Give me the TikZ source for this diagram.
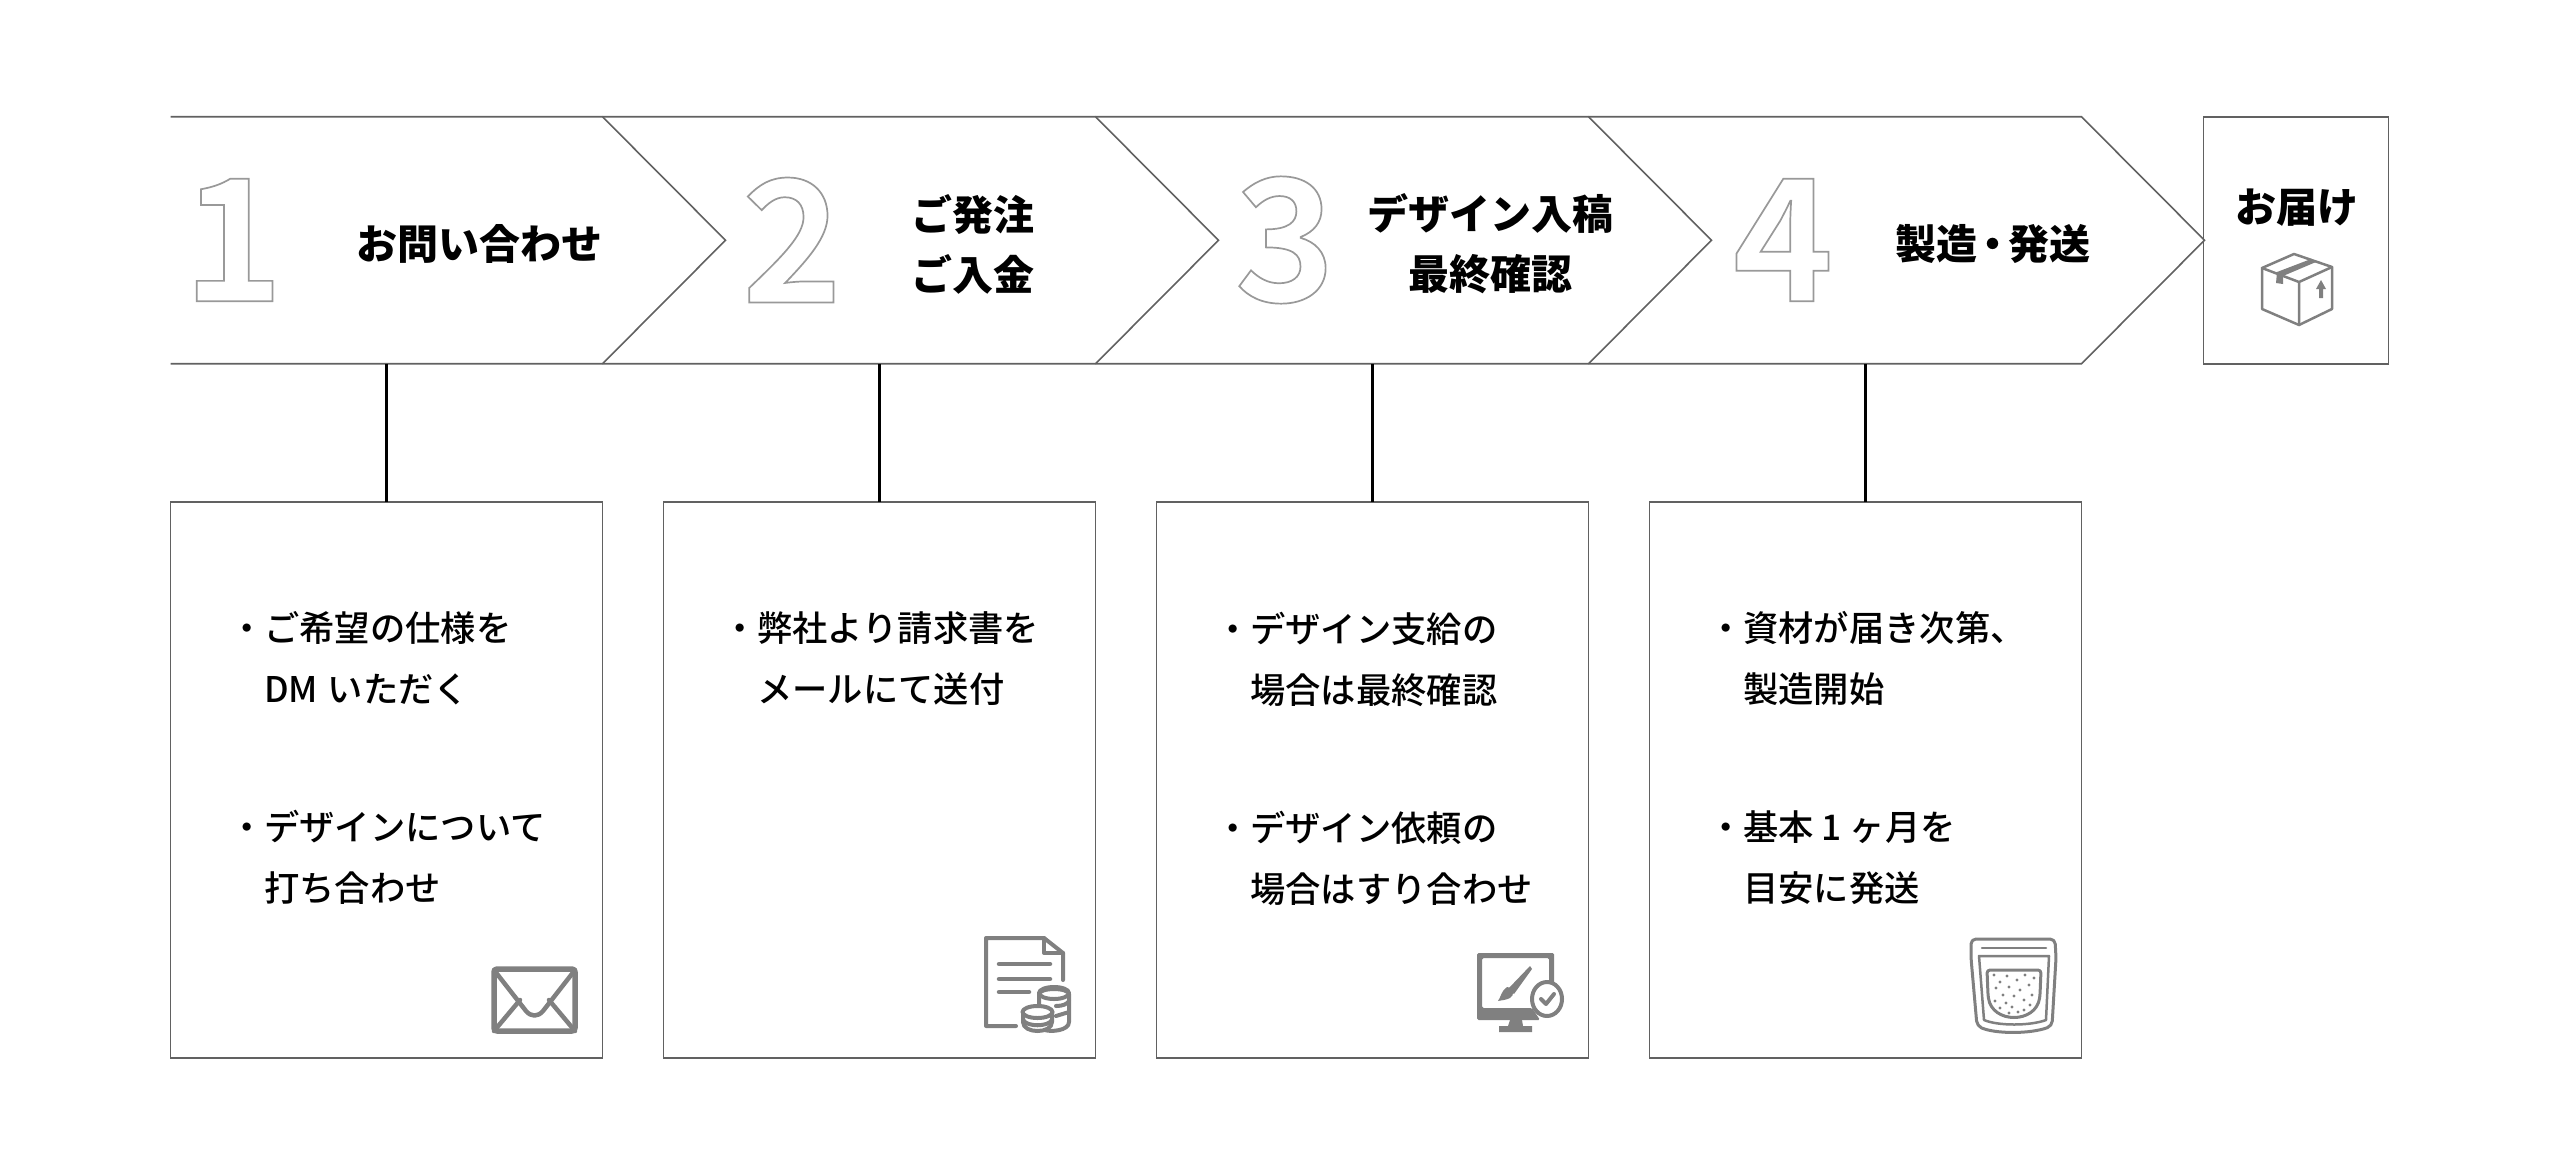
\documentclass[tikz,border=0pt]{standalone}
\usepackage{fontspec}
\usetikzlibrary{positioning}
\setmainfont{Noto Sans CJK JP Medium}
\newfontfamily\jpblack{Noto Sans CJK JP Black}
\newfontfamily\jpnum[FakeBold=1]{Noto Sans CJK JP Bold}
\definecolor{linegray}{gray}{.38}
\definecolor{icongray}{gray}{.5}
\def\BigNum#1{\special{pdf:code 0.6 0.6 0.6 RG}#1}
\def\Ind{\hspace*{1em}}
\tikzset{
	stepbox/.style={rectangle,draw=linegray,line width=1.8pt,fill=white,minimum width=432pt,minimum height=556.5pt},
	headbox/.style={rectangle,minimum width=432pt,minimum height=247pt},
	chev/.style={draw=linegray,line width=1.6pt},
	conn/.style={draw=black,line width=2.2pt},
	headtxt/.style={align=center,font=\jpblack\fontsize{41pt}{60pt}\selectfont},
	bodytxt/.style={align=left,anchor=north west,font=\fontsize{35.3pt}{61pt}\selectfont},
	numtxt/.style={text=white,font=\jpnum\fontsize{170pt}{170pt}\selectfont},
	ico/.style={draw=icongray,line width=4pt,line join=round,line cap=round},
	icofill/.style={fill=icongray,draw=none}
}
\begin{document}
\begin{tikzpicture}[x=1pt,y=-1pt,
			every node/.style={inner sep=0pt,outer sep=0pt}
		]
		\useasboundingbox (0,0) rectangle (2560,1165);
		% lower boxes
		\node[stepbox](B1) at (386.5,780){};
		\node[stepbox](B2)[right=61pt of B1]{};
		\node[stepbox](B3)[right=61pt of B2]{};
		\node[stepbox](B4)[right=61pt of B3]{};
		% band
		\node[headbox](S1)[above=138pt of B1]{};
		\node[headbox](S2)[above=138pt of B2]{};
		\node[headbox](S3)[above=138pt of B3]{};
		\node[headbox](S4)[above=138pt of B4]{};
		\foreach \n/\s in {1/0,2/61,3/61,4/61}{
			\draw[chev] ([xshift=-\s pt]S\n.north west) -- (S\n.north east) -- ([xshift=123pt]S\n.east)
				-- (S\n.south east) -- ([xshift=-\s pt]S\n.south west);
		}
		\node[rectangle,draw=linegray,line width=1.8pt,minimum width=185pt,minimum height=247pt](E1)[right=122pt of S4]{};
		\path
		(S1)edge[conn] (B1)
		(S2)edge[conn] (B2)
		(S3)edge[conn] (B3)
		(S4)edge[conn] (B4)
		;
		% numbers
		\node[numtxt](N1) at (233,240){\BigNum{1}};
		\node[numtxt](N2) at (792,240){\BigNum{2}};
		\node[numtxt](N3) at (1285,240){\BigNum{3}};
		\node[numtxt](N4) at (1783,240){\BigNum{4}};
		% titles
		\node[headtxt](H1) at (479,244){お問い合わせ};
		\node[headtxt](H2) at (973,244){ご発注\\ご入金};
		\node[headtxt](H3) at (1490,244){デザイン入稿\\最終確認};
		\node[headtxt](H4) at (1993,244){製造\hspace{-.12em}・\hspace{-.12em}発送};
		\node[headtxt](H5) at (2297,208){お届け};
		% texts
		\node[bodytxt](T1)[below right=110pt and 58.5pt of B1.north west]{・ご希望の仕様を\\\Ind DM\hspace{.05em} いただく\\[77pt]・デザインについて\\\Ind 打ち合わせ};
		\node[bodytxt](T2)[below right=110pt and 58.5pt of B2.north west]{・弊社より請求書を\\\Ind メールにて送付};
		\node[bodytxt](T3)[below right=110pt and 58.5pt of B3.north west]{・デザイン支給の\\\Ind 場合は最終確認\\[77pt]・デザイン依頼の\\\Ind 場合はすり合わせ};
		\node[bodytxt](T4)[below right=110pt and 58.5pt of B4.north west]{・資材が届き次第、\\\Ind 製造開始\\[77pt]・基本 1 ヶ月を\\\Ind 目安に発送};
		% envelope
		\draw[ico,line width=5.5pt,rounded corners=3pt] (494,969) rectangle (575,1031);
		\draw[ico,line width=4.5pt] (494,970) -- (526,1011) .. controls (531,1017) and (538,1017) .. (543,1011) -- (575,970);
		\draw[ico,line width=4.5pt] (494,1031) -- (520,1000) (575,1031) -- (549,1000);
		% document and coins
		\draw[ico,line width=4pt] (1016,1026) -- (986,1026) -- (986,938) -- (1044,938) -- (1063,953) -- (1063,980);
		\draw[ico,line width=4pt] (1044,938) -- (1044,953) -- (1063,953);
		\draw[ico,line width=4.5pt] (999,964) -- (1050,964) (999,979) -- (1050,979) (999,992) -- (1029,992);
		\draw[ico,line width=4pt,fill=white] (1039,994) arc[start angle=180,end angle=360,x radius=15,y radius=5] -- (1069,1022)
			.. controls (1069,1031) and (1050,1032) .. (1045,1030);
		\draw[ico,line width=4pt] (1054,993) ellipse[x radius=15,y radius=6];
		\draw[ico,line width=4pt] (1039,994) -- (1039,1006) (1056,1006) .. controls (1063,1006) and (1067,1004) .. (1069,1001)
			(1056,1016) -- (1069,1012);
		\draw[ico,line width=4pt,fill=white] (1023,1011) -- (1023,1022) .. controls (1023,1034) and (1052,1034) .. (1052,1022) -- (1052,1011);
		\draw[ico,line width=4pt,fill=white] (1037.5,1012) ellipse[x radius=15,y radius=6];
		\draw[ico,line width=4pt] (1023,1020) .. controls (1027,1027) and (1048,1027) .. (1052,1020);
		% monitor with brush and check
		\fill[icofill,rounded corners=1.5pt] (1477,953) -- (1554,953) -- (1554,1010) -- (1549,1010) -- (1549,958) -- (1482,958)
			-- (1482,1008) -- (1532,1008) -- (1540,1020) -- (1477,1020) -- cycle;
		\fill[icofill] (1510,1020) -- (1522,1020) -- (1523,1026) -- (1532,1026) -- (1532,1032) -- (1499,1032) -- (1499,1026) -- (1508,1026) -- cycle;
		\fill[icofill] (1530,966) -- (1532,969) -- (1514,994) -- (1508,989) -- cycle;
		\fill[icofill] (1507,987) .. controls (1514,988) and (1515,995) .. (1510,998) .. controls (1506,1000) and (1503,1000) .. (1498,1001)
			.. controls (1501,997) and (1501,991) .. (1507,987) -- cycle;
		\draw[ico,line width=4pt,fill=white] (1547,999) ellipse[x radius=15,y radius=17];
		\draw[ico,line width=4pt] (1541,999) -- (1546,1004) -- (1554,994);
		% pouch
		\draw[ico,line width=3pt,rounded corners=5pt] (1971,939) -- (2055,939) -- (2056,958) -- (2052,1026) .. controls (2030,1034) and (1996,1034) .. (1977,1026) -- (1971,958) -- cycle;
		\draw[ico,line width=2.5pt] (1982,948) -- (2046,948);
		\draw[ico,line width=2.5pt] (1979,956) -- (2049,956) -- (2046,1020) .. controls (2030,1026) and (1998,1026) .. (1984,1020) -- cycle;
		\draw[ico,line width=3pt,rounded corners=3pt] (1987,970) -- (2041,970) -- (2040,995) .. controls (2036,1024) and (1992,1024) .. (1988,995) -- cycle;
		\foreach \px/\py in {1994/975,2000/982,2007/976,2017/980,2025/975,2034/978,1996/988,2009/987,2020/990,2029/985,2003/995,2014/996,2032/995,1995/1001,2006/1003,2024/1000,2030/1005,2000/1008,2012/1007,2018/1012,2024/1010,2009/1013}{
			\fill[icongray] (\px,\py) circle[radius=1.6];
		}
		% parcel
		\draw[ico,line width=2.5pt] (2294,254) -- (2262,268) -- (2262,309) -- (2299,325) -- (2332,309) -- (2332,267) -- cycle;
		\draw[ico,line width=2.5pt] (2262,268) -- (2299,282) -- (2332,267) (2299,282) -- (2299,325);
		\fill[icofill] (2277,272) -- (2311,259) -- (2316,262) -- (2283,276) -- (2283,284) -- (2276,283) -- cycle;
		\fill[icofill] (2321,280) -- (2326,289) -- (2323,289) -- (2323,298) -- (2319,298) -- (2319,289) -- (2316,289) -- cycle;
	\end{tikzpicture}
\end{document}
